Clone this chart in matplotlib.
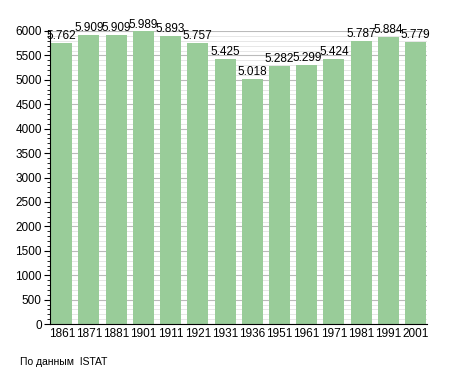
import matplotlib
matplotlib.use("Agg")
import matplotlib.pyplot as plt
from matplotlib.ticker import MultipleLocator

# ---- Данные ----
years = ["1861", "1871", "1881", "1901", "1911", "1921", "1931",
         "1936", "1951", "1961", "1971", "1981", "1991", "2001"]
population = [5762, 5909, 5909, 5989, 5893, 5757, 5425,
              5018, 5282, 5299, 5424, 5787, 5884, 5779]
labels = ["5.762", "5.909", "5.909", "5.989", "5.893", "5.757", "5.425",
          "5.018", "5.282", "5.299", "5.424", "5.787", "5.884", "5.779"]

plt.rcParams["font.family"] = ["Liberation Sans", "DejaVu Sans"]
plt.rcParams["font.size"] = 8

fig = plt.figure(figsize=(4.55, 3.73), dpi=100)
ax = fig.add_axes([0.11, 0.131, 0.829, 0.786])

x = list(range(len(years)))
ax.bar(x, population, width=0.77, color="#99cc99", zorder=2)

# подписи над столбцами
for xi, val, txt in zip(x, population, labels):
    ax.text(xi, val + 20, txt, ha="center", va="bottom", fontsize=8.5, zorder=3)

ax.set_xlim(-0.43, len(years) - 0.57)
ax.set_ylim(0, 6000)
ax.set_xticks(x)
ax.set_xticklabels(years)
ax.yaxis.set_major_locator(MultipleLocator(500))
ax.yaxis.set_minor_locator(MultipleLocator(100))

ax.grid(which="major", axis="y", color="#bbbbbb", linewidth=0.8, zorder=0)
ax.grid(which="minor", axis="y", color="#e3e3e3", linewidth=0.6, zorder=0)

for side in ["top", "right"]:
    ax.spines[side].set_visible(False)
ax.tick_params(axis="x", length=0, pad=3, labelsize=8.5)
ax.tick_params(axis="y", which="major", length=4, width=0.8, pad=2, labelsize=8.5)
ax.tick_params(axis="y", which="minor", length=2, width=0.6)

fig.text(20 / 455, 1 - 362 / 373, "По данным  ISTAT", fontsize=7.5, va="center")

fig.savefig("out.png", dpi=100)
